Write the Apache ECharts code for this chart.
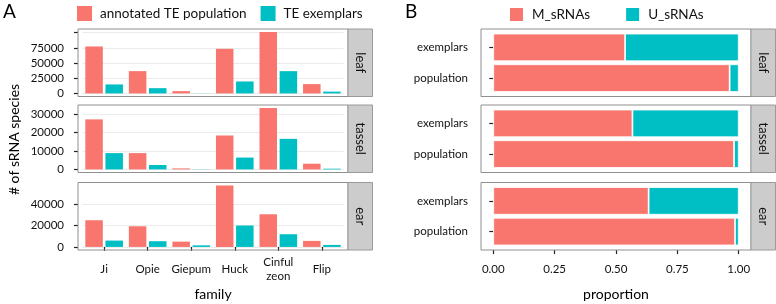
<!DOCTYPE html>
<html><head><meta charset="utf-8">
<script src="https://cdn.jsdelivr.net/npm/echarts@6/dist/echarts.min.js"></script>
<style>html,body{margin:0;padding:0;background:#fff}#c{width:776px;height:304px}</style>
</head><body><div id="c"></div>
<script>
// ---- data ----
const families = ['Ji', 'Opie', 'Giepum', 'Huck', 'Cinful zeon', 'Flip'];
const tissues = ['leaf', 'tassel', 'ear'];
const annotLeaf   = [77300, 36700, 3800, 73400, 101000, 15300];
const exemLeaf    = [14800, 8700, 200, 19700, 36700, 3000];
const annotTassel = [27000, 8800, 550, 18300, 33100, 3100];
const exemTassel  = [8800, 2400, 100, 6400, 16500, 400];
const annotEar    = [25200, 19500, 5000, 57900, 30800, 5700];
const exemEar     = [6000, 5400, 1500, 20200, 12000, 1900];
const ticksLeaf   = [0, 25000, 50000, 75000, 100000];
const labelsLeaf  = [0, 25000, 50000, 75000];
const ticksTassel = [0, 10000, 20000, 30000];
const ticksEar    = [0, 20000, 40000];

const groups = ['exemplars', 'population'];
const mLeaf   = [0.537, 0.963];
const uLeaf   = [0.463, 0.037];
const mTassel = [0.567, 0.981];
const uTassel = [0.433, 0.019];
const mEar    = [0.633, 0.985];
const uEar    = [0.367, 0.015];
const propTicks = [0, 0.25, 0.5, 0.75, 1];

const seriesNamesA = ['annotated TE population', 'TE exemplars'];
const seriesNamesB = ['M_sRNAs', 'U_sRNAs'];

// ---- layout ----
const RED = '#F8766D', TEAL = '#00BFC4';
const FONT = 'Lato';
const TXT = '#111';
const panelsY = [[29, 96.5], [105, 172.5], [182.5, 250]];
const A = {l: 78, r: 348}, B = {l: 481, r: 751};
const stripW = 24.5;
const insetA = (A.r - A.l) / 6.2 * 0.1;

const annots = [annotLeaf, annotTassel, annotEar];
const exems = [exemLeaf, exemTassel, exemEar];
const tickSets = [ticksLeaf, ticksTassel, ticksEar];
const labelSets = [labelsLeaf, ticksTassel, ticksEar];
const ms = [mLeaf, mTassel, mEar];
const us = [uLeaf, uTassel, uEar];

const grids = [], xAxes = [], yAxes = [], series = [], graphics = [];
const W = 776, H = 304;
const tickStyle = {color: '#222', width: 1.2};

for (let i = 0; i < 3; i++) {
  const [t, b] = panelsY[i];
  const isLast = i === 2;
  // ---- panel A ----
  const gA = grids.length;
  grids.push({left: A.l + insetA, right: W - (A.r - insetA), top: t, bottom: H - b});
  const mx = Math.max(...annots[i], ...exems[i]);
  xAxes.push({
    type: 'category', gridIndex: gA, data: families,
    axisLine: {show: false},
    axisTick: {show: isLast, alignWithLabel: true, length: 4, lineStyle: tickStyle},
    axisLabel: {show: isLast, fontFamily: FONT, fontSize: 11.5, color: TXT, margin: 19,
      verticalAlign: 'middle', lineHeight: 14, interval: 0,
      formatter: v => v.replace(' ', '\n')}
  });
  yAxes.push({
    type: 'value', gridIndex: gA, min: -0.05 * mx, max: 1.05 * mx, offset: insetA,
    axisLine: {show: false},
    axisTick: {show: true, length: 4, lineStyle: tickStyle, customValues: tickSets[i]},
    axisLabel: {fontFamily: FONT, fontSize: 11.5, color: TXT, margin: 14, customValues: labelSets[i],
      formatter: v => String(Math.round(v))},
    splitLine: {show: true, lineStyle: {color: '#EBEBEB', width: 1}}
  });
  series.push({name: seriesNamesA[0], type: 'bar', xAxisIndex: gA, yAxisIndex: gA, data: annots[i],
    itemStyle: {color: RED}, barWidth: 17.5, barGap: '15%'});
  series.push({name: seriesNamesA[1], type: 'bar', xAxisIndex: gA, yAxisIndex: gA, data: exems[i],
    itemStyle: {color: TEAL}, barWidth: 17.5, barGap: '15%'});

  // ---- panel B ----
  const insetB = (b - t) / 2.2 * 0.1;
  const gB = grids.length;
  grids.push({left: B.l, right: W - B.r, top: t + insetB, bottom: H - b + insetB});
  xAxes.push({
    type: 'value', gridIndex: gB, min: -0.05, max: 1.05, offset: insetB,
    axisLine: {show: false},
    axisTick: {show: isLast, length: 4, lineStyle: tickStyle, customValues: propTicks},
    axisLabel: {show: isLast, fontFamily: FONT, fontSize: 11.5, color: TXT, margin: 13,
      customValues: propTicks, formatter: v => v.toFixed(2)},
    splitLine: {show: false}
  });
  yAxes.push({
    type: 'category', gridIndex: gB, data: groups, inverse: true,
    axisLine: {show: false},
    axisTick: {show: true, alignWithLabel: true, length: 4, lineStyle: tickStyle},
    axisLabel: {fontFamily: FONT, fontSize: 11.5, color: TXT, margin: 13}
  });
  series.push({name: seriesNamesB[0], type: 'bar', stack: 'p' + i, xAxisIndex: gB, yAxisIndex: gB, data: ms[i],
    itemStyle: {color: RED, borderColor: '#fff', borderWidth: 0.8}, barCategoryGap: '10%'});
  series.push({name: seriesNamesB[1], type: 'bar', stack: 'p' + i, xAxisIndex: gB, yAxisIndex: gB, data: us[i],
    itemStyle: {color: TEAL, borderColor: '#fff', borderWidth: 0.8}, barCategoryGap: '10%'});

  // panel borders and strips
  [A, B].forEach(P => {
    graphics.push({type: 'rect', z: 100, silent: true,
      shape: {x: P.l, y: t, width: P.r - P.l, height: b - t},
      style: {fill: 'none', stroke: '#8f8f8f', lineWidth: 1}});
    graphics.push({type: 'rect', z: 100, silent: true,
      shape: {x: P.r, y: t, width: stripW, height: b - t},
      style: {fill: '#CCCCCC', stroke: '#9a9a9a', lineWidth: 1}});
    graphics.push({type: 'text', z: 101, silent: true,
      x: P.r + stripW / 2, y: (t + b) / 2, rotation: -Math.PI / 2,
      style: {text: tissues[i], font: '13px ' + FONT, fill: TXT, textAlign: 'center', textVerticalAlign: 'middle'}});
  });
}

graphics.push({type: 'text', left: 3, top: 2, style: {text: 'A', font: '19px ' + FONT, fill: '#000'}});
graphics.push({type: 'text', left: 405, top: 2, style: {text: 'B', font: '19px ' + FONT, fill: '#000'}});
graphics.push({type: 'text', x: 14, y: 139.5, rotation: Math.PI / 2,
  style: {text: '# of sRNA species', font: '14px ' + FONT, fill: '#000', textAlign: 'center', textVerticalAlign: 'middle'}});
graphics.push({type: 'text', x: (A.l + A.r) / 2, y: 294,
  style: {text: 'family', font: '14px ' + FONT, fill: '#000', textAlign: 'center', textVerticalAlign: 'middle'}});
graphics.push({type: 'text', x: (B.l + B.r) / 2, y: 294,
  style: {text: 'proportion', font: '14px ' + FONT, fill: '#000', textAlign: 'center', textVerticalAlign: 'middle'}});

const legendCommon = {
  top: 6, padding: 0, icon: 'rect', itemWidth: 15, itemHeight: 15, itemGap: 14,
  textStyle: {fontFamily: FONT, fontSize: 13.5, color: TXT, padding: [0, 0, 0, 3]},
  selectedMode: false
};

const chart = echarts.init(document.getElementById('c'), null, {renderer: 'canvas'});
chart.setOption({
  animation: false,
  backgroundColor: '#fff',
  grid: grids, xAxis: xAxes, yAxis: yAxes, series: series,
  legend: [
    Object.assign({}, legendCommon, {left: 77, data: seriesNamesA}),
    Object.assign({}, legendCommon, {left: 508, data: seriesNamesB, itemGap: 34})
  ],
  graphic: graphics
});
</script></body></html>
